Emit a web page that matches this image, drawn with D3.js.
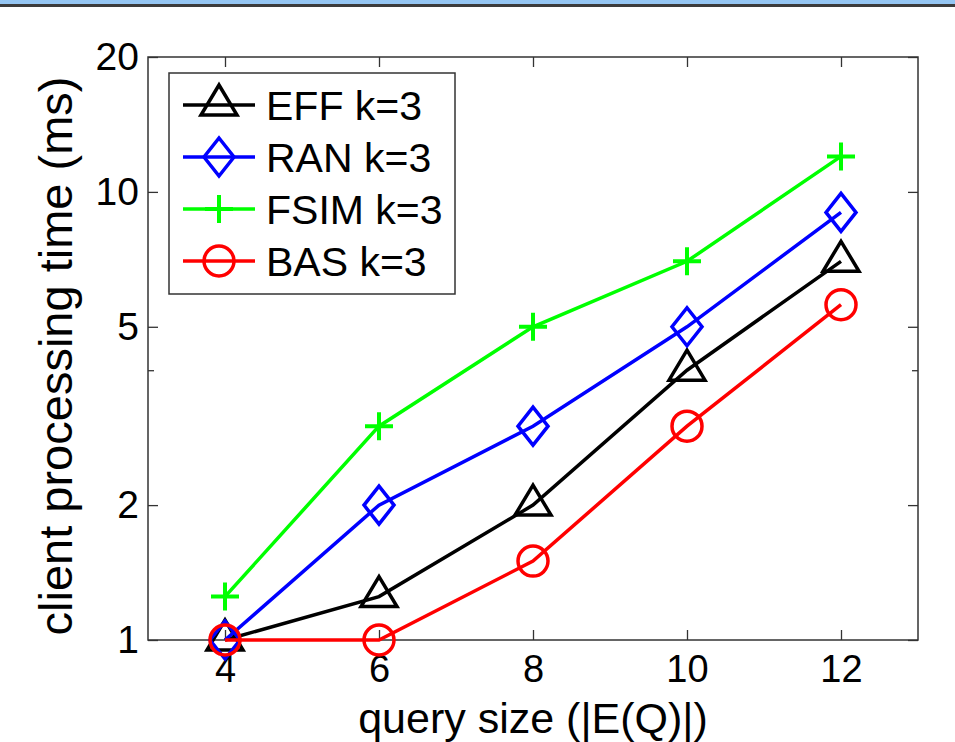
<!doctype html>
<html>
<head>
<meta charset="utf-8">
<title>client processing time</title>
<script src="https://d3js.org/d3.v7.min.js"></script>
<style>
  body { margin: 0; background: #fff; }
  text { font-family: "Liberation Sans", Arial, sans-serif; fill: #000; }
</style>
</head>
<body>
<div id="chart"></div>
<script>
// query size values
var querySizes = [4, 6, 8, 10, 12];
// client processing time (ms), one list per method
var effK3  = [1, 1.25, 2, 4, 7];
var ranK3  = [1, 2, 3, 5, 9];
var fsimK3 = [1.25, 3, 5, 7, 12];
var basK3  = [1, 1, 1.5, 3, 5.6];
var seriesNames = ["EFF k=3", "RAN k=3", "FSIM k=3", "BAS k=3"];
var xTicks = [4, 6, 8, 10, 12];
var yTicks = [1, 2, 5, 10, 20];
var yMinorTicks = [4];

var series = [
  {name: seriesNames[0], values: effK3,  color: "#000000", marker: "triangle"},
  {name: seriesNames[1], values: ranK3,  color: "#0000ff", marker: "diamond"},
  {name: seriesNames[2], values: fsimK3, color: "#00ff00", marker: "plus"},
  {name: seriesNames[3], values: basK3,  color: "#ff0000", marker: "circle"}
];

var W = 955, H = 742;
var m = {left: 148, right: 955 - 918, top: 57, bottom: 742 - 640};
var width = W - m.left - m.right, height = H - m.top - m.bottom;

var svg = d3.select("#chart").append("svg")
    .attr("width", W).attr("height", H);

// window strip on top
svg.append("rect").attr("x", 0).attr("y", 0).attr("width", W).attr("height", 5).attr("fill", "#95c6f3");
svg.append("rect").attr("x", 0).attr("y", 4).attr("width", W).attr("height", 3).attr("fill", "#3c3c3c");

var g = svg.append("g").attr("transform", "translate(" + m.left + "," + m.top + ")");

var x = d3.scaleLinear().domain([3, 13]).range([0, width]);
var y = d3.scaleLog().domain([1, 20]).range([height, 0]);

// axes, ticks pointing inward
function styleAxis(sel) {
  sel.select(".domain").remove();
  sel.selectAll(".tick line").attr("stroke", "#333").attr("stroke-width", 1.3);
}

g.append("g").attr("transform", "translate(0," + height + ")")
    .call(d3.axisBottom(x).tickValues(xTicks).tickSize(-10).tickPadding(15).tickFormat(d3.format("d")))
    .call(styleAxis)
    .selectAll("text").attr("font-size", 38).attr("font-family", "Liberation Sans, Arial, sans-serif");

g.append("g")
    .call(d3.axisTop(x).tickValues(xTicks).tickSize(-10).tickFormat(""))
    .call(styleAxis);

g.append("g")
    .call(d3.axisLeft(y).tickValues(yTicks).tickSize(-10).tickPadding(9).tickFormat(d3.format("d")))
    .call(styleAxis)
    .selectAll("text").attr("font-size", 39).attr("font-family", "Liberation Sans, Arial, sans-serif");

g.append("g").attr("transform", "translate(" + width + ",0)")
    .call(d3.axisRight(y).tickValues(yTicks).tickSize(-10).tickFormat(""))
    .call(styleAxis);

// minor ticks
g.append("g")
    .call(d3.axisLeft(y).tickValues(yMinorTicks).tickSize(-6).tickFormat(""))
    .call(styleAxis);
g.append("g").attr("transform", "translate(" + width + ",0)")
    .call(d3.axisRight(y).tickValues(yMinorTicks).tickSize(-6).tickFormat(""))
    .call(styleAxis);

// frame
g.append("rect").attr("width", width).attr("height", height)
    .attr("fill", "none").attr("stroke", "#333").attr("stroke-width", 1.5);

// lines
var line = d3.line()
    .x(function(d, i){ return x(querySizes[i]); })
    .y(function(d){ return y(d); });

function drawMarker(sel, type, color) {
  if (type === "triangle") {
    sel.append("path").attr("d", "M0,-20L18,10L-18,10Z")
      .attr("fill", "none").attr("stroke", color).attr("stroke-width", 3.5).attr("stroke-linejoin", "miter");
  } else if (type === "diamond") {
    sel.append("path").attr("d", "M0,-19L15,0L0,19L-15,0Z")
      .attr("fill", "none").attr("stroke", color).attr("stroke-width", 3.5);
  } else if (type === "plus") {
    sel.append("path").attr("d", "M-14,0L14,0M0,-14L0,14")
      .attr("fill", "none").attr("stroke", color).attr("stroke-width", 4);
  } else if (type === "circle") {
    sel.append("circle").attr("r", 15)
      .attr("fill", "none").attr("stroke", color).attr("stroke-width", 3.5);
  }
}

series.forEach(function(s){
  g.append("path").datum(s.values)
      .attr("d", line)
      .attr("fill", "none")
      .attr("stroke", s.color)
      .attr("stroke-width", 3.5);
  s.values.forEach(function(v, i){
    var mk = g.append("g").attr("transform", "translate(" + x(querySizes[i]) + "," + y(v) + ")");
    drawMarker(mk, s.marker, s.color);
  });
});

// legend
var legend = svg.append("g").attr("transform", "translate(169,73)");
legend.append("rect").attr("width", 286).attr("height", 221)
    .attr("fill", "#fff").attr("stroke", "#333").attr("stroke-width", 1.5);
series.forEach(function(s, i){
  var row = legend.append("g").attr("transform", "translate(0," + (32 + i * 52) + ")");
  row.append("line").attr("x1", 14).attr("x2", 86)
      .attr("stroke", s.color).attr("stroke-width", 3.5);
  drawMarker(row.append("g").attr("transform", "translate(50,0)"), s.marker, s.color);
  row.append("text").attr("x", 97).attr("y", 15)
      .attr("font-size", 41).text(s.name);
});

// axis labels
svg.append("text")
    .attr("x", m.left + width / 2).attr("y", 733)
    .attr("text-anchor", "middle").attr("font-size", 43)
    .text("query size (|E(Q)|)");

svg.append("text")
    .attr("transform", "translate(72,356) rotate(-90)")
    .attr("text-anchor", "middle").attr("font-size", 47)
    .text("client processing time (ms)");
</script>
</body>
</html>
